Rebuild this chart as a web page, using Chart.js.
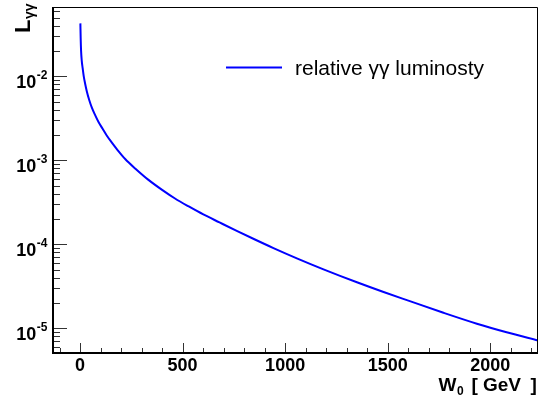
<!DOCTYPE html>
<html>
<head>
<meta charset="utf-8">
<script src="https://cdn.jsdelivr.net/npm/chart.js@4.4.1/dist/chart.umd.min.js"></script>
<style>
  html, body { margin: 0; padding: 0; background: #fff; }
  canvas { display: block; }
</style>
</head>
<body>
<canvas id="lumiChart" width="546" height="396"></canvas>
<script>
// W0 in GeV and the relative luminosity
const energies = [1.5, 3, 5, 8, 13, 18, 24, 33, 45, 57, 73, 90, 110, 130, 155, 182, 220, 270, 332, 400, 463, 530, 601, 680, 764, 850, 943, 1060, 1187, 1350, 1480, 1601, 1772, 1935, 2080, 2233];
const luminosity = [4.266e-2, 2.818e-2, 1.995e-2, 1.549e-2, 1.230e-2, 1.0e-2, 8.318e-3, 6.607e-3, 5.188e-3, 4.266e-3, 3.467e-3, 2.851e-3, 2.371e-3, 1.972e-3, 1.622e-3, 1.334e-3, 1.035e-3, 7.943e-4, 5.888e-4, 4.446e-4, 3.508e-4, 2.818e-4, 2.265e-4, 1.820e-4, 1.445e-4, 1.148e-4, 9.016e-5, 6.761e-5, 5.035e-5, 3.532e-5, 2.704e-5, 2.133e-5, 1.531e-5, 1.135e-5, 8.974e-6, 7.145e-6];
const xTickLabels = [0, 500, 1000, 1500, 2000];
const yDecades = [-5, -4, -3, -2];
const seriesLabel = 'relative γγ luminosty';

const FONT = '"Liberation Sans", Arial, Helvetica, sans-serif';

// ROOT-like frame: ticks inside, superscript labels
const rootAxes = {
    id: 'rootAxes',
    afterDatasetsDraw(chart) {
        const { ctx, chartArea: a, scales: { x, y } } = chart;
        ctx.save();

        // tick marks
        ctx.strokeStyle = '#333';
        ctx.lineWidth = 1;
        ctx.beginPath();
        for (let v = -100; v <= 2200; v += 100) {
            const px = Math.round(x.getPixelForValue(v)) + 0.5;
            const len = v % 500 === 0 ? 10 : 5;
            ctx.moveTo(px, a.bottom);
            ctx.lineTo(px, a.bottom - len);
        }
        for (let d = -6; d <= -2; d++) {
            for (let m = 1; m <= 9; m++) {
                const v = m * Math.pow(10, d);
                if (v < y.min || v > y.max) continue;
                const py = Math.round(y.getPixelForValue(v)) + 0.5;
                const len = m === 1 ? 14 : 7;
                ctx.moveTo(a.left, py);
                ctx.lineTo(a.left + len, py);
            }
        }
        ctx.stroke();

        // frame
        ctx.strokeStyle = '#000';
        ctx.lineWidth = 1;
        ctx.beginPath();
        ctx.moveTo(a.left, a.top + 0.5);
        ctx.lineTo(a.right - 0.5, a.top + 0.5);
        ctx.lineTo(a.right - 0.5, a.bottom);
        ctx.stroke();
        ctx.lineWidth = 2;
        ctx.beginPath();
        ctx.moveTo(a.left, a.top);
        ctx.lineTo(a.left, a.bottom);
        ctx.lineTo(a.right, a.bottom);
        ctx.stroke();

        // x labels
        ctx.fillStyle = '#000';
        ctx.font = 'bold 18px ' + FONT;
        ctx.textAlign = 'center';
        ctx.textBaseline = 'alphabetic';
        xTickLabels.forEach(v => {
            ctx.fillText(String(v), x.getPixelForValue(v), 371);
        });

        // y labels 10^n
        ctx.textAlign = 'left';
        yDecades.forEach(d => {
            const py = y.getPixelForValue(Math.pow(10, d));
            ctx.font = 'bold 12px ' + FONT;
            const sup = String(d);
            const supW = ctx.measureText(sup).width;
            const supX = 47.5 - supW;
            ctx.fillText(sup, supX, py + 3);
            ctx.font = 'bold 18px ' + FONT;
            const baseW = ctx.measureText('10').width;
            ctx.fillText('10', supX - baseW - 0.5, py + 11.5);
        });

        // x title
        ctx.font = 'bold 19px ' + FONT;
        ctx.fillText('W', 438.5, 391);
        ctx.font = 'bold 12px ' + FONT;
        ctx.fillText('0', 457, 395);
        ctx.font = 'bold 19px ' + FONT;
        ctx.fillText('[', 471.5, 391);
        ctx.fillText('GeV', 483, 391);
        ctx.fillText(']', 530.5, 391);

        // y title, rotated
        ctx.save();
        ctx.translate(30, 33);
        ctx.rotate(-Math.PI / 2);
        ctx.font = 'bold 22px ' + FONT;
        ctx.fillText('L', 0, 0);
        ctx.font = 'bold 14px ' + FONT;
        ctx.fillText('γγ', 14, 4);
        ctx.restore();

        // legend
        ctx.strokeStyle = '#0000ff';
        ctx.lineWidth = 2;
        ctx.beginPath();
        ctx.moveTo(226, 67.5);
        ctx.lineTo(282, 67.5);
        ctx.stroke();
        ctx.font = '21px ' + FONT;
        ctx.fillText(seriesLabel, 295, 74.5);

        ctx.restore();
    }
};

new Chart(document.getElementById('lumiChart'), {
    type: 'line',
    data: {
        datasets: [{
            label: seriesLabel,
            data: energies.map((e, i) => ({ x: e, y: luminosity[i] })),
            borderColor: '#0000ff',
            borderWidth: 2,
            pointRadius: 0,
            fill: false,
            cubicInterpolationMode: 'monotone'
        }]
    },
    options: {
        responsive: false,
        animation: false,
        devicePixelRatio: 1,
        layout: { padding: { top: 7, right: 8, left: 0, bottom: 0 } },
        plugins: {
            legend: { display: false },
            tooltip: { enabled: false }
        },
        scales: {
            x: {
                type: 'linear',
                min: -132,
                max: 2233,
                grid: { display: false },
                border: { display: false },
                ticks: { display: false },
                afterFit: scale => { scale.height = 43; }
            },
            y: {
                type: 'logarithmic',
                min: 5.08e-6,
                max: 0.0668,
                grid: { display: false },
                border: { display: false },
                ticks: { display: false },
                afterFit: scale => { scale.width = 53; }
            }
        }
    },
    plugins: [rootAxes]
});
</script>
</body>
</html>
